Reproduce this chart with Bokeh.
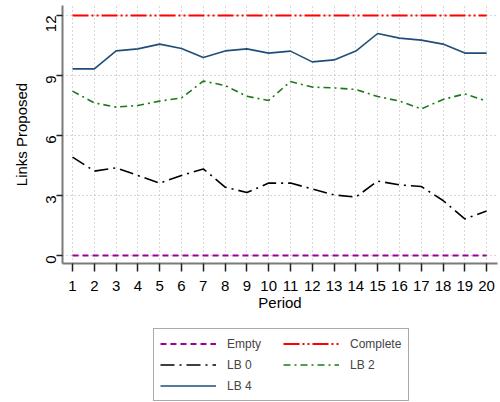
import math
from bokeh.plotting import figure
from bokeh.layouts import column
from bokeh.models import Legend, LegendItem, Range1d, FixedTicker
from bokeh.embed import file_html
from bokeh.resources import INLINE

# Mean number of links proposed per period, by treatment
periods = list(range(1, 21))
empty = [0] * 20
complete = [12] * 20
lb0 = [4.92, 4.22, 4.38, 4.00, 3.62, 4.00, 4.33, 3.42, 3.15, 3.62,
       3.62, 3.33, 3.03, 2.92, 3.72, 3.53, 3.45, 2.75, 1.83, 2.22]
lb2 = [8.22, 7.63, 7.42, 7.50, 7.72, 7.88, 8.72, 8.50, 7.96, 7.75,
       8.70, 8.42, 8.38, 8.30, 7.95, 7.72, 7.33, 7.80, 8.08, 7.72]
lb4 = [9.33, 9.33, 10.23, 10.33, 10.57, 10.35, 9.90, 10.23, 10.33, 10.12,
       10.22, 9.68, 9.78, 10.22, 11.10, 10.87, 10.77, 10.57, 10.12, 10.12]
y_ticks = [0, 3, 6, 9, 12]

FONT = "Liberation Sans"

# line styles per series: (label, values, color, width, dash)
styles = [
    ("Empty", empty, "#990099", 2.0, "6 4"),
    ("Complete", complete, "#ff0000", 2.0, "16 3 2 3 2 3"),
    ("LB 0", lb0, "black", 1.6, "14 5 2 5"),
    ("LB 2", lb2, "#1a7a1a", 1.6, "7 4 2 4"),
    ("LB 4", lb4, "#1f4e79", 1.6, "solid"),
]

p = figure(width=500, height=320, output_backend="svg", toolbar_location=None,
           x_range=Range1d(0.54, 20.5), y_range=Range1d(-0.4, 12.5),
           min_border_left=62, min_border_right=3, min_border_top=5,
           min_border_bottom=57)
p.outline_line_color = None
p.background_fill_color = "white"

# grid
for g in (p.xgrid, p.ygrid):
    g.grid_line_color = "#b0b0b0"
    g.grid_line_dash = "1 3"
    g.grid_line_width = 1
p.xgrid.ticker = FixedTicker(ticks=periods)
p.ygrid.ticker = FixedTicker(ticks=y_ticks)

# axes
p.xaxis.ticker = FixedTicker(ticks=periods)
p.yaxis.ticker = FixedTicker(ticks=y_ticks)
for ax in (p.xaxis, p.yaxis):
    ax.axis_line_color = "#7a7a7a"
    ax.axis_line_width = 2
    ax.major_tick_line_color = "#222222"
    ax.major_tick_line_width = 1.5
    ax.major_tick_in = 0
    ax.minor_tick_line_color = None
    ax.major_label_text_font = FONT
    ax.major_label_text_font_size = "15px"
    ax.major_label_text_color = "black"
    ax.axis_label_text_font = FONT
    ax.axis_label_text_font_size = "15px"
    ax.axis_label_text_font_style = "normal"
    ax.axis_label_text_color = "black"
p.xaxis.major_tick_out = 8
p.yaxis.major_tick_out = 6
p.xaxis.axis_label = "Period"
p.yaxis.axis_label = "Links Proposed"
p.yaxis.major_label_orientation = math.pi / 2
p.xaxis.major_label_standoff = 9
p.xaxis.axis_label_standoff = 0
p.yaxis.major_label_standoff = 6
p.yaxis.axis_label_standoff = 8

for label, vals, color, width, dash in styles:
    p.line(periods, vals, line_color=color, line_width=width, line_dash=dash)

# legend panel below the chart; its lines sit outside the visible range
leg_fig = figure(width=500, height=82, output_backend="svg", toolbar_location=None,
                 x_range=Range1d(0, 1), y_range=Range1d(0, 1),
                 min_border=0, min_border_left=0, min_border_right=0,
                 min_border_top=0, min_border_bottom=0)
leg_fig.axis.visible = False
leg_fig.grid.visible = False
leg_fig.outline_line_color = None

items = []
for label, vals, color, width, dash in styles:
    r = leg_fig.line([5, 6], [5, 6], line_color=color, line_width=width, line_dash=dash)
    items.append(LegendItem(label=label, renderers=[r]))

legend = Legend(items=items, ncols=2, orientation="horizontal")
legend.label_text_font = FONT
legend.label_text_font_size = "12px"
legend.label_width = 52
legend.glyph_width = 56
legend.glyph_height = 17
legend.label_standoff = 11
legend.spacing = 4
legend.padding = 6
legend.margin = 0
legend.border_line_color = "#555555"
legend.border_line_width = 1.5
legend.location = (91, 1)
leg_fig.add_layout(legend, "center")

open("out.html", "w").write(file_html(column(p, leg_fig, spacing=0), INLINE))
